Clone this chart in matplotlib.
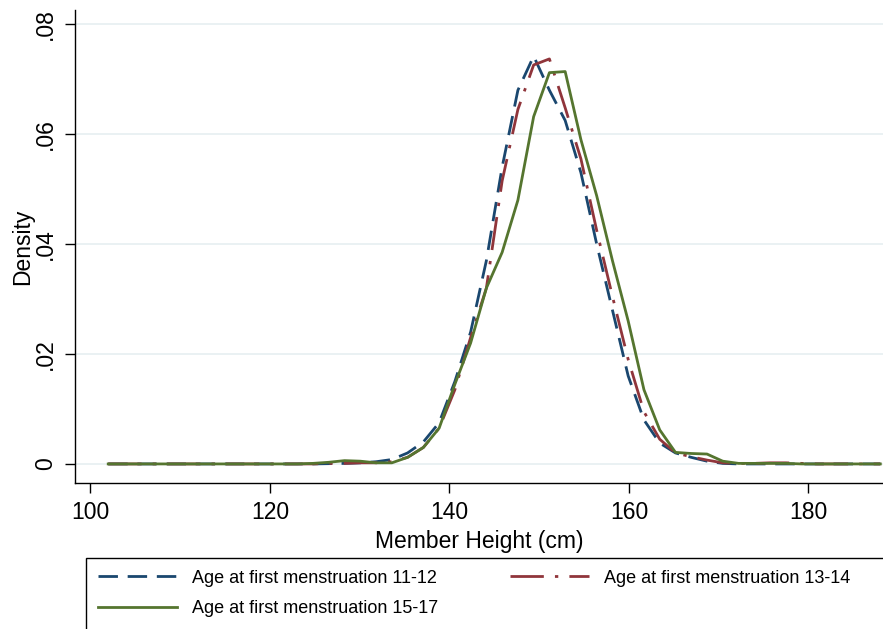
import numpy as np
import matplotlib
matplotlib.use("Agg")
import matplotlib.pyplot as plt
from matplotlib.patches import Rectangle

# evaluation grid (kdensity 50 points)
heights = np.linspace(102, 188, 50)

dens_11_12 = [0, 0, 0, 0, 0, 0, 0, 0, 0, 0, 0, 0, 0,
              0.0000, 0.00005, 0.0001, 0.0002, 0.0004, 0.0008, 0.0020, 0.0040, 0.0075,
              0.0150, 0.0240, 0.0370, 0.0540, 0.0680, 0.0742, 0.0680, 0.0625, 0.0530,
              0.0400, 0.0280, 0.0160, 0.0080, 0.0038, 0.0020, 0.0012, 0.0005, 0.0001,
              0.0000, 0, 0, 0, 0, 0, 0, 0, 0, 0]
dens_13_14 = [0, 0, 0, 0, 0, 0, 0, 0, 0, 0, 0, 0, 0,
              0.0000, 0.0001, 0.0001, 0.0002, 0.0002, 0.0004, 0.0012, 0.0030, 0.0065,
              0.0135, 0.0230, 0.0320, 0.0515, 0.0645, 0.0726, 0.0737, 0.0648, 0.0555,
              0.0425, 0.0305, 0.0190, 0.0095, 0.0045, 0.0020, 0.0013, 0.0007, 0.0002,
              0.0001, 0.0001, 0.0002, 0.0002, 0.0001, 0, 0, 0, 0, 0]
dens_15_17 = [0, 0, 0, 0, 0, 0, 0, 0, 0, 0, 0, 0, 0,
              0.0001, 0.0003, 0.0006, 0.0005, 0.0002, 0.0002, 0.0012, 0.0030, 0.0065,
              0.0145, 0.0220, 0.0320, 0.0385, 0.0480, 0.0632, 0.0712, 0.0714, 0.0590,
              0.0488, 0.0370, 0.0260, 0.0135, 0.0062, 0.0021, 0.0019, 0.0018, 0.0005,
              0.0001, 0.0001, 0.0001, 0.0001, 0, 0, 0, 0, 0, 0]

labels = ["Age at first menstruation 11-12",
          "Age at first menstruation 13-14",
          "Age at first menstruation 15-17"]
colors = ["#1a476f", "#90353b", "#55752f"]

xticks = [100, 120, 140, 160, 180]
yticks = [0, 0.02, 0.04, 0.06, 0.08]
yticklabels = ["0", ".02", ".04", ".06", ".08"]

plt.rcParams['font.family'] = ['Liberation Sans', 'DejaVu Sans']

fig = plt.figure(figsize=(8.83, 6.29), dpi=100)
ax = fig.add_axes([75/883, 1-483/629, 1-75/883, (483-10)/629])

lw = 2.0
l1, = ax.plot(heights, dens_11_12, color=colors[0], lw=lw, dashes=(7, 3.5), label=labels[0])
l2, = ax.plot(heights, dens_13_14, color=colors[1], lw=lw, dashes=(12, 4, 1.2, 4), label=labels[1])
l3, = ax.plot(heights, dens_15_17, color=colors[2], lw=lw, label=labels[2])

ax.set_xlim(98.3, 188.3)
ax.set_ylim(-0.00347, 0.0826)
ax.set_xticks(xticks)
ax.set_xticklabels([str(t) for t in xticks])
ax.set_yticks(yticks)
ax.set_yticklabels(yticklabels, rotation=90, va='center')
ax.tick_params(axis='both', labelsize=16.5, length=7, width=1, color='black', pad=6)
ax.yaxis.grid(True, color='#e6eff1', lw=1.2)
ax.set_axisbelow(True)
for s in ['top', 'right']:
    ax.spines[s].set_visible(False)
for s in ['left', 'bottom']:
    ax.spines[s].set_linewidth(1.0)

ax.set_xlabel("Member Height (cm)", fontsize=16.5, labelpad=4)
ax.set_ylabel("Density", fontsize=16.5, labelpad=0)

# legend frame (extends past the figure's right and bottom edges)
fig.patches.append(Rectangle((86/883, -0.2), 1.0, 0.2 + 1 - 558/629,
                             transform=fig.transFigure, fill=False,
                             edgecolor='black', lw=1.0))

# column-wise fill: col1 = 11-12, 15-17 ; col2 = 13-14
leg = fig.legend(handles=[l1, l3, l2], labels=[labels[0], labels[2], labels[1]],
                 ncol=2, loc='upper left',
                 bbox_to_anchor=(86/883, 1-558/629), fontsize=13,
                 frameon=False,
                 handlelength=4.4, handletextpad=0.8, columnspacing=4.0,
                 labelspacing=0.75, borderpad=0.65, borderaxespad=0)

fig.savefig("out.png", dpi=100)
